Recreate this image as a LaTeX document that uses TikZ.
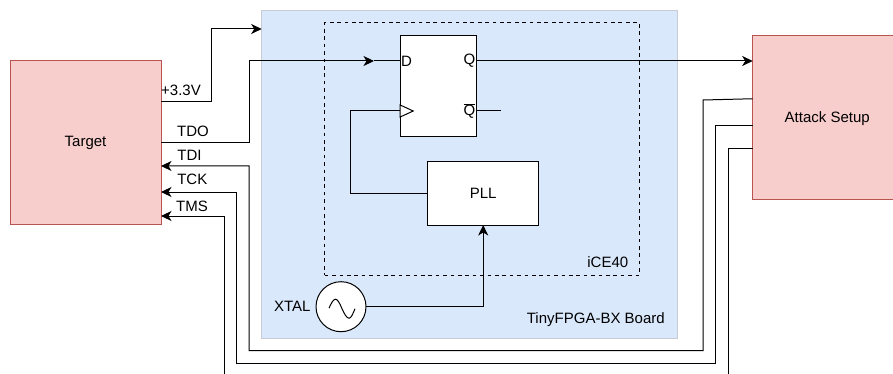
\documentclass[tikz,border=0pt]{standalone}
\usepackage{fontspec}
\setmainfont{Liberation Sans}
\usetikzlibrary{arrows.meta,positioning}
\definecolor{redfill}{HTML}{F8CECC}
\definecolor{redline}{HTML}{B85450}
\definecolor{bluefill}{HTML}{DAE8FC}
\definecolor{boardline}{HTML}{C8CCD2}
\tikzset{
  >={Stealth[length=10.5pt,width=10pt,inset=3pt]},
  box/.style={draw,outer sep=0pt,inner sep=0pt,line width=1pt},
  lbl/.style={inner sep=0pt,outer sep=0pt},
}
\begin{document}
\begin{tikzpicture}[x=1pt,y=-1pt,line width=1pt,font=\fontsize{15}{17}\selectfont]
    \useasboundingbox (0,0) rectangle (893,374);
    \clip (0,0) rectangle (893,374);
    \node[box,draw=redline,fill=redfill,minimum width=151pt,minimum height=163pt] (target) at (85.5,142.5) {};
    \node[lbl] at (target) {Target};
    \node[box,draw=boardline,fill=bluefill,minimum width=416pt,minimum height=327pt,below right=-50pt and 100.7pt of target.north east] (board) {};
    \node[box,draw=redline,fill=redfill,minimum width=151pt,minimum height=163.5pt,below right=25pt and 75pt of board.north east] (attack) {};
    \node[lbl,xshift=-1pt,yshift=-1pt] at (attack) {Attack Setup};
    \node[box,dashed,dash pattern=on 3.7pt off 3.7pt,minimum width=315pt,minimum height=252pt,below right=12pt and 63pt of board.north west] (fpga) {};
    \node[box,fill=white,minimum width=76pt,minimum height=101pt,below right=12.5pt and 75.5pt of fpga.north west] (ff) {};
    \node[box,fill=white,minimum width=111pt,minimum height=63pt,below right=25.5pt and -48.5pt of ff.south east] (pll) {PLL};
    \node[box,circle,fill=white,minimum size=50pt] (xtal) at (341,306.7) {};
    \node[lbl,left=5.5pt of xtal] (xtallbl) {XTAL};
    \node[lbl,above left=11pt and 13pt of board.south east] (boardlbl) {TinyFPGA-BX Board};
    \node[lbl,above left=7pt and 11.5pt of fpga.south east] (fpgalbl) {iCE40};
    \node[lbl,right=1pt of {[yshift=25pt]ff.west}] (dlbl) {D};
    \node[lbl,left=1pt of {[yshift=25pt]ff.east}] (qlbl) {Q};
    \node[lbl,left=1pt of {[yshift=-25pt]ff.east}] (qbarlbl) {$\overline{\mbox{Q}}$};
    \node[lbl] (vcclbl) at (181,90.7) {+3.3V};
    \node[lbl] (tdolbl) at (193,131.7) {TDO};
    \node[lbl] (tdilbl) at (189.5,155.7) {TDI};
    \node[lbl] (tcklbl) at (192.3,179.3) {TCK};
    \node[lbl] (tmslbl) at (192,206.7) {TMS};
    \coordinate (dmid) at (374,61);
    \coordinate (qbarend) at (501,111);
    \coordinate (tmsleft) at (224,374);
    \coordinate (tmsright) at (728,374);
    % target to board
    \draw[->] ([yshift=41pt]target.east) -| (211,29) -- ([yshift=-18pt]board.north west);
    \draw[->] (target.east) -| (249,61) -- (dmid);
    \draw (dmid) -- ([yshift=25pt]ff.west);
    % flip-flop
    \draw[->] ([yshift=25pt]ff.east) -- ([yshift=56.75pt]attack.west);
    \draw ([yshift=-25pt]ff.east) -- (qbarend);
    \draw (pll.west) -| (350,111) -- ([yshift=-25pt]ff.west);
    \draw[fill=white] ([yshift=-19pt]ff.west) -- ++(13,6) -- ++(-13,6) -- cycle;
    \draw[->] (xtal.east) -| (pll.south);
    \draw ([shift={(-12,1.5)}]xtal.center) sin ++(6.5,-9) cos ++(6.5,9.5) sin ++(7,9.5) cos ++(6,-9.5);
    % attack setup to target
    \draw[->] ([yshift=19pt]attack.west) -- (703,100) |- (249,350.5) |- ([yshift=-23.5pt]target.east);
    \draw[->] ([yshift=-7.5pt]attack.west) -| (715,363) -| (236.7,192) -- ([yshift=-49.5pt]target.east);
    \draw[->] (tmsleft) |- ([yshift=-73.5pt]target.east);
    \draw ([yshift=-30.5pt]attack.west) -| (tmsright);
\end{tikzpicture}
\end{document}
